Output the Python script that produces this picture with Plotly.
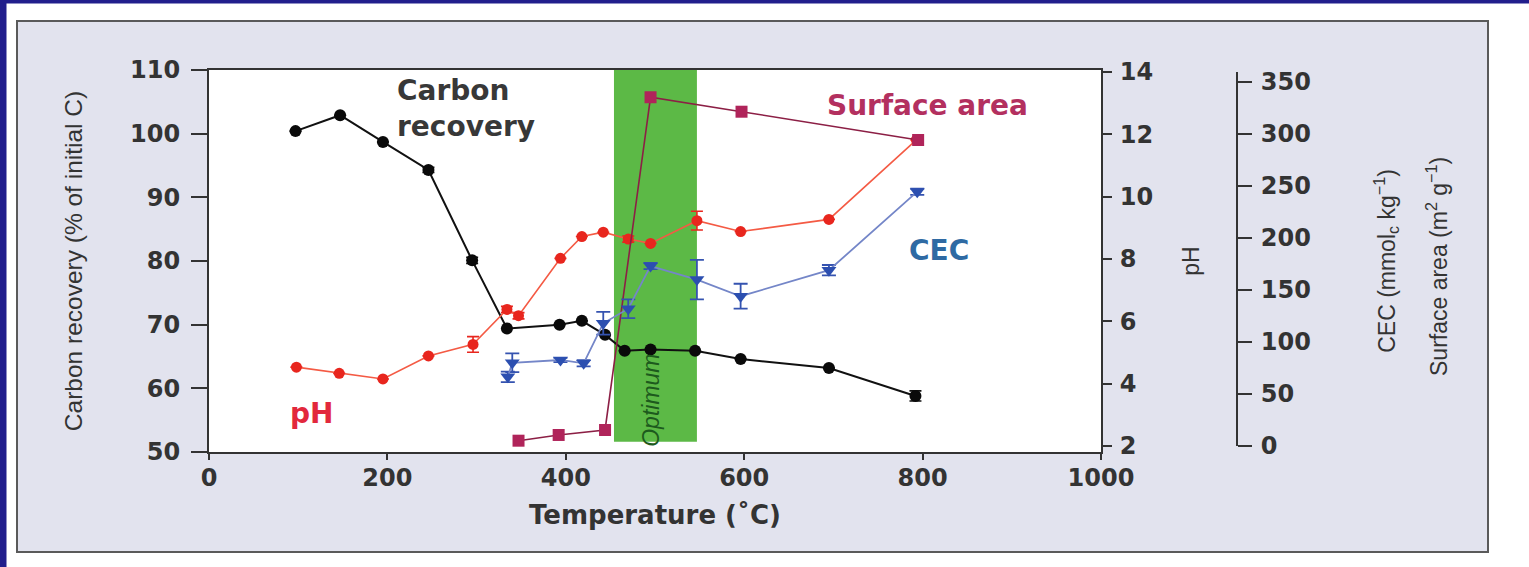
import plotly.graph_objects as go

# ---------------- data ----------------
cr_temp = [97, 147, 195, 246, 295, 334, 393, 418, 444, 466, 495, 545, 596, 695, 792]
cr_val = [100.4, 102.9, 98.7, 94.3, 80.1, 69.4, 70.0, 70.6, 68.4, 65.9, 66.1, 65.9, 64.6, 63.2, 58.8]
cr_err = [0, 0, 0, 0.4, 0.5, 0, 0, 0, 0, 0, 0, 0, 0, 0, 0.8]

ph_temp = [98, 146, 195, 246, 296, 334, 347, 394, 418, 442, 470, 495, 547, 596, 695, 793]
ph_val = [4.53, 4.33, 4.15, 4.89, 5.26, 6.38, 6.18, 8.02, 8.72, 8.86, 8.64, 8.50, 9.23, 8.88, 9.27, 11.82]
ph_err = [0, 0, 0, 0, 0.25, 0.1, 0.1, 0, 0, 0, 0.1, 0, 0.3, 0, 0, 0]

cec_temp = [335, 340, 394, 420, 442, 470, 495, 547, 596, 695, 794]
cec_val = [66.5, 80, 82.7, 79.5, 118, 132, 173, 160, 144, 169, 244.5]
cec_err = [5, 9, 2, 3, 11, 9, 3, 19, 12, 5, 3]

sa_temp = [347, 392, 444, 495, 597, 795]
sa_val = [5.1, 10.6, 15.4, 335.3, 321.4, 294.2]

optimum_range = [454, 547]

x_ticks = [0, 200, 400, 600, 800, 1000]
cr_ticks = [50, 60, 70, 80, 90, 100, 110]
ph_ticks = [2, 4, 6, 8, 10, 12, 14]
cec_ticks = [0, 50, 100, 150, 200, 250, 300, 350]

# ---------------- geometry helpers (pixel -> paper) ----------------
W, H = 1529, 567
ML, MR, MT, MB = 209, 189, 70, 115
PW = W - ML - MR          # paper-referenced width
PH = H - MT - MB          # plot height
PLOT_RIGHT = 1101


def px_x(px):
    return (px - ML) / PW


def px_y(py):
    return (H - MB - py) / PH


TXT = "#333333"
NAVY = "#211e8c"
PANEL = "#e2e3ee"
GREEN = "#5cb946"
tick_font = dict(family="DejaVu Sans", size=24, color=TXT, weight="bold")
side_title_font = dict(family="Liberation Sans", size=23, color=TXT)

fig = go.Figure()

# Surface area
fig.add_trace(go.Scatter(
    x=sa_temp, y=sa_val, yaxis="y3", mode="lines+markers",
    line=dict(color="#8c1f45", width=1.6),
    marker=dict(symbol="square", size=12, color="#b0245a"),
    name="Surface area"))

# CEC
fig.add_trace(go.Scatter(
    x=cec_temp, y=cec_val, yaxis="y3", mode="lines+markers",
    line=dict(color="#7486c8", width=1.8),
    marker=dict(symbol="triangle-down", size=13, color="#2c4fb0"),
    error_y=dict(type="data", array=cec_err, color="#3553b0", thickness=1.8, width=7),
    name="CEC"))

# pH
fig.add_trace(go.Scatter(
    x=ph_temp, y=ph_val, yaxis="y2", mode="lines+markers",
    line=dict(color="#f45a44", width=1.6),
    marker=dict(symbol="circle", size=11, color="#e8261e"),
    error_y=dict(type="data", array=ph_err, color="#e8261e", thickness=1.6, width=6),
    name="pH"))

# Carbon recovery
fig.add_trace(go.Scatter(
    x=cr_temp, y=cr_val, yaxis="y", mode="lines+markers",
    line=dict(color="#111111", width=2),
    marker=dict(symbol="circle", size=12, color="#0a0a0a"),
    error_y=dict(type="data", array=cr_err, color="#111111", thickness=1.6, width=6),
    name="Carbon recovery"))

shapes = [
    # navy frame strips
    dict(type="rect", xref="paper", yref="paper", x0=px_x(0), x1=px_x(6.5),
         y0=px_y(H), y1=px_y(0), fillcolor=NAVY, line=dict(width=0), layer="below"),
    dict(type="rect", xref="paper", yref="paper", x0=px_x(0), x1=px_x(W),
         y0=px_y(3.5), y1=px_y(0), fillcolor=NAVY, line=dict(width=0), layer="below"),
    # grey panel
    dict(type="rect", xref="paper", yref="paper", x0=px_x(17), x1=px_x(1488),
         y0=px_y(552), y1=px_y(21), fillcolor=PANEL, line=dict(color="#5a5a5a", width=2),
         layer="below"),
    # white plot area
    dict(type="rect", xref="paper", yref="paper", x0=0, x1=px_x(PLOT_RIGHT),
         y0=0, y1=1, fillcolor="white", line=dict(width=0), layer="below"),
    # optimum band
    dict(type="rect", xref="x", yref="y", x0=optimum_range[0], x1=optimum_range[1],
         y0=51.6, y1=110, fillcolor=GREEN, line=dict(width=0), layer="below"),
    # third axis line
    dict(type="line", xref="paper", yref="y3", x0=px_x(1237), x1=px_x(1237),
         y0=0, y1=359.6, line=dict(color=TXT, width=2)),
]

annotations = [
    dict(text="Carbon<br>recovery", x=208, y=104.0, xref="x", yref="y",
         xanchor="left", yanchor="middle", align="left", showarrow=False,
         font=dict(family="DejaVu Sans", size=28, color="#383838", weight="bold")),
    dict(text="Surface area", x=805, y=104.5, xref="x", yref="y",
         xanchor="center", yanchor="middle", showarrow=False,
         font=dict(family="DejaVu Sans", size=28, color="#b3305f", weight="bold")),
    dict(text="CEC", x=818, y=81.7, xref="x", yref="y",
         xanchor="center", yanchor="middle", showarrow=False,
         font=dict(family="DejaVu Sans", size=28, color="#2f6aa3", weight="bold")),
    dict(text="pH", x=115, y=56.1, xref="x", yref="y",
         xanchor="center", yanchor="middle", showarrow=False,
         font=dict(family="DejaVu Sans", size=28, color="#e2283c", weight="bold")),
    dict(text="Optimum", x=495.5, y=58.2, xref="x", yref="y", textangle=-90,
         xanchor="center", yanchor="middle", showarrow=False,
         font=dict(family="Liberation Sans", size=23, color="#1d5a1d", style="italic")),
    # second line of the third-axis title
    dict(text="Surface area (m<sup>2</sup> g<sup>−1</sup>)", x=px_x(1437), y=px_y(267),
         xref="paper", yref="paper", textangle=-90, xanchor="center", yanchor="middle",
         showarrow=False, font=side_title_font),
]

fig.update_layout(
    width=W, height=H, autosize=False,
    margin=dict(l=ML, r=MR, t=MT, b=MB, pad=0),
    paper_bgcolor="white", plot_bgcolor="rgba(0,0,0,0)",
    showlegend=False,
    font=dict(family="DejaVu Sans", color=TXT),
    xaxis=dict(domain=[0, px_x(PLOT_RIGHT)], range=[0, 1000], tickvals=x_ticks,
               showline=True, linecolor=TXT, linewidth=2, mirror=True,
               ticks="outside", ticklen=6, tickwidth=2, tickcolor=TXT,
               ticklabelstandoff=-3,
               title=dict(text="Temperature (˚C)", standoff=15,
                          font=dict(family="DejaVu Sans", size=26, color=TXT, weight="bold")),
               showgrid=False, zeroline=False, tickfont=tick_font),
    yaxis=dict(range=[50, 110], tickvals=cr_ticks, showline=True, linecolor=TXT,
               linewidth=2, ticks="outside", ticklen=16, tickwidth=2, tickcolor=TXT,
               ticklabelstandoff=6,
               title=dict(text="Carbon recovery (% of initial C)", standoff=41,
                          font=dict(family="Liberation Sans", size=24.5, color=TXT)),
               showgrid=False, zeroline=False, tickfont=tick_font),
    yaxis2=dict(range=[1.807, 14.064], tickvals=ph_ticks, overlaying="y", side="right",
                anchor="x", showline=True, linecolor=TXT, linewidth=2,
                ticks="outside", ticklen=9, tickwidth=2, tickcolor=TXT,
                ticklabelstandoff=3,
                title=dict(text="pH", standoff=31, font=side_title_font),
                showgrid=False, zeroline=False, tickfont=tick_font),
    yaxis3=dict(range=[-5.77, 361.5], tickvals=cec_ticks, overlaying="y", side="right",
                anchor="free", position=px_x(1237), showline=False,
                ticks="outside", ticklen=14, tickwidth=2, tickcolor=TXT,
                ticklabelstandoff=4,
                title=dict(text="CEC (mmol<sub>c</sub> kg<sup>−1</sup>)", standoff=68,
                           font=side_title_font),
                showgrid=False, zeroline=False, tickfont=tick_font),
    shapes=shapes,
    annotations=annotations,
)

fig.write_html("out.html", config={"displayModeBar": False},
               post_script="document.body.style.margin='0';document.body.style.overflow='hidden';")
